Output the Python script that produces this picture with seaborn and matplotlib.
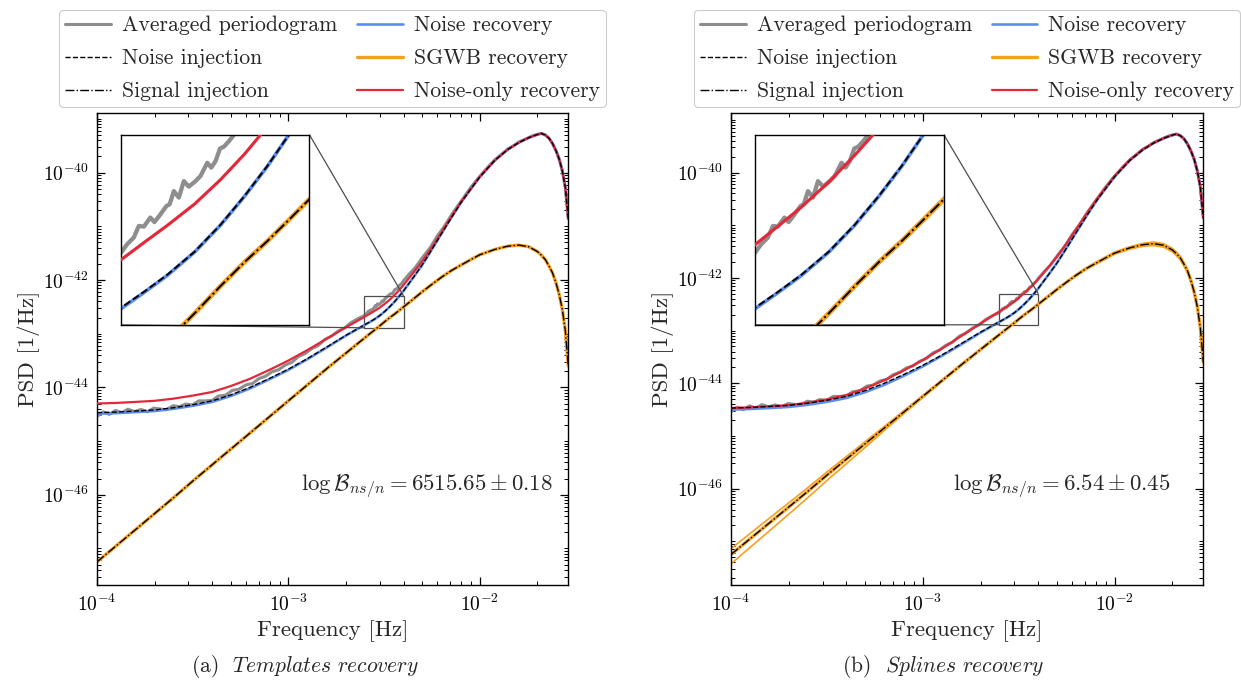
import numpy as np
import matplotlib
matplotlib.use("Agg")
import matplotlib.pyplot as plt
import seaborn as sns
from matplotlib.ticker import LogLocator, FixedLocator, FuncFormatter, NullLocator, NullFormatter
from mpl_toolkits.axes_grid1.inset_locator import mark_inset

# ---------------- data (log10 PSD values) ----------------
freq = [1.0e-4, 1.25e-4, 1.6e-4, 2.0e-4, 2.5e-4, 3.2e-4, 4.0e-4, 5.0e-4, 6.3e-4, 8.0e-4,
        1.0e-3, 1.25e-3, 1.6e-3, 2.0e-3, 2.5e-3, 2.65e-3, 2.8e-3, 3.0e-3, 3.2e-3, 3.4e-3,
        3.6e-3, 3.8e-3, 4.0e-3, 4.5e-3, 5.0e-3, 5.6e-3, 6.3e-3, 7.1e-3, 8.0e-3, 9.0e-3,
        1.0e-2, 1.2e-2, 1.4e-2, 1.6e-2, 1.8e-2, 2.0e-2, 2.1e-2, 2.2e-2, 2.3e-2, 2.4e-2,
        2.5e-2, 2.6e-2, 2.7e-2, 2.8e-2, 2.9e-2]

noise_injection = [-44.47, -44.46, -44.44, -44.42, -44.38, -44.32, -44.25, -44.14, -44.00, -43.83,
                   -43.66, -43.47, -43.24, -43.03, -42.835, -42.785, -42.735, -42.663, -42.580, -42.490,
                   -42.397, -42.300, -42.200, -41.95, -41.72, -41.44, -41.14, -40.84, -40.55, -40.30,
                   -40.08, -39.77, -39.57, -39.44, -39.35, -39.29, -39.27, -39.30, -39.36, -39.46,
                   -39.59, -39.75, -39.97, -40.28, -40.86]

signal_injection = [-47.25, -46.96, -46.64, -46.35, -46.06, -45.73, -45.44, -45.15, -44.85, -44.54,
                    -44.25, -43.96, -43.64, -43.36, -43.08, -43.007, -42.94, -42.854, -42.77, -42.695,
                    -42.63, -42.564, -42.50, -42.354, -42.22, -42.085, -41.95, -41.825, -41.72, -41.618,
                    -41.53, -41.43, -41.37, -41.35, -41.38, -41.47, -41.54, -41.62, -41.74, -41.87,
                    -42.05, -42.27, -42.55, -42.95, -43.60]

# (a) templates recovery
noise_rec_templates = [-44.49, -44.48, -44.46, -44.44, -44.40, -44.34, -44.27, -44.16, -44.02, -43.845,
                       -43.675, -43.48, -43.25, -43.035, -42.838, -42.787, -42.737, -42.664, -42.581, -42.491,
                       -42.398, -42.300, -42.200, -41.95, -41.72, -41.44, -41.14, -40.84, -40.55, -40.30,
                       -40.08, -39.77, -39.57, -39.44, -39.35, -39.29, -39.27, -39.30, -39.36, -39.46,
                       -39.59, -39.75, -39.97, -40.28, -40.86]
sgwb_rec_templates = [-47.25, -46.96, -46.64, -46.35, -46.06, -45.73, -45.44, -45.15, -44.85, -44.54,
                      -44.25, -43.96, -43.64, -43.36, -43.08, -43.007, -42.94, -42.854, -42.77, -42.695,
                      -42.63, -42.564, -42.50, -42.354, -42.22, -42.085, -41.95, -41.825, -41.72, -41.618,
                      -41.53, -41.43, -41.37, -41.35, -41.38, -41.47, -41.54, -41.62, -41.74, -41.87,
                      -42.05, -42.27, -42.55, -42.95, -43.60]
noise_only_templates = [-44.30, -44.29, -44.27, -44.25, -44.21, -44.15, -44.085, -43.975, -43.84, -43.67,
                        -43.50, -43.31, -43.085, -42.88, -42.686, -42.632, -42.582, -42.515, -42.440, -42.360,
                        -42.275, -42.185, -42.09, -41.86, -41.655, -41.40, -41.115, -40.825, -40.542, -40.297,
                        -40.08, -39.77, -39.57, -39.44, -39.35, -39.29, -39.27, -39.30, -39.36, -39.46,
                        -39.59, -39.75, -39.97, -40.28, -40.86]

# (b) splines recovery
noise_rec_splines = [-44.50, -44.49, -44.47, -44.45, -44.41, -44.35, -44.28, -44.17, -44.03, -43.855,
                     -43.68, -43.485, -43.255, -43.04, -42.838, -42.787, -42.737, -42.664, -42.581, -42.491,
                     -42.398, -42.300, -42.200, -41.95, -41.72, -41.44, -41.14, -40.84, -40.55, -40.30,
                     -40.08, -39.77, -39.57, -39.44, -39.35, -39.29, -39.27, -39.30, -39.36, -39.46,
                     -39.59, -39.75, -39.97, -40.28, -40.86]
sgwb_rec_splines = [-47.25, -46.96, -46.64, -46.35, -46.06, -45.73, -45.44, -45.15, -44.85, -44.54,
                    -44.25, -43.96, -43.64, -43.36, -43.08, -43.007, -42.94, -42.854, -42.77, -42.695,
                    -42.63, -42.564, -42.50, -42.354, -42.22, -42.085, -41.95, -41.825, -41.72, -41.618,
                    -41.53, -41.43, -41.37, -41.35, -41.38, -41.47, -41.54, -41.62, -41.74, -41.87,
                    -42.05, -42.27, -42.55, -42.95, -43.60]
sgwb_splines_upper = [-47.14, -46.86, -46.55, -46.27, -45.99, -45.67, -45.39, -45.11, -44.820, -44.52,
                      -44.235, -43.950, -43.633, -43.355, -43.076, -43.003, -42.936, -42.850, -42.766, -42.691,
                      -42.626, -42.559, -42.495, -42.348, -42.213, -42.076, -41.940, -41.813, -41.705, -41.600,
                      -41.512, -41.41, -41.345, -41.32, -41.35, -41.44, -41.51, -41.59, -41.71, -41.84,
                      -42.02, -42.24, -42.52, -42.92, -43.57]
sgwb_splines_lower = [-47.43, -47.125, -46.79, -46.485, -46.18, -45.83, -45.525, -45.22, -44.895, -44.570,
                      -44.270, -43.975, -43.650, -43.367, -43.084, -43.011, -42.944, -42.858, -42.774, -42.699,
                      -42.634, -42.569, -42.506, -42.362, -42.230, -42.096, -41.963, -41.839, -41.737, -41.638,
                      -41.550, -41.455, -41.400, -41.385, -41.415, -41.505, -41.575, -41.655, -41.775, -41.905,
                      -42.085, -42.305, -42.585, -42.985, -43.635]
noise_only_splines = [-44.469, -44.459, -44.437, -44.415, -44.371, -44.303, -44.223, -44.099, -43.942, -43.752,
                      -43.560, -43.348, -43.095, -42.864, -42.639, -42.581, -42.525, -42.447, -42.364, -42.280,
                      -42.197, -42.111, -42.024, -41.806, -41.601, -41.351, -41.078, -40.797, -40.522, -40.280,
                      -40.065, -39.761, -39.563, -39.435, -39.346, -39.287, -39.268, -39.298, -39.358, -39.458,
                      -39.588, -39.749, -39.969, -40.279, -40.859]

# averaged periodogram (same data in both panels)
periodogram_freq = [1.00e-4, 1.08e-4, 1.16e-4, 1.25e-4, 1.35e-4, 1.45e-4, 1.57e-4, 1.70e-4, 1.83e-4, 1.98e-4,
                    2.14e-4, 2.30e-4, 2.50e-4, 2.70e-4, 2.90e-4, 3.15e-4, 3.40e-4, 3.70e-4, 4.00e-4, 4.30e-4,
                    4.70e-4, 5.10e-4, 5.50e-4, 6.00e-4, 6.50e-4, 7.00e-4, 7.60e-4, 8.20e-4, 8.90e-4, 9.60e-4,
                    1.04e-3, 1.13e-3, 1.22e-3, 1.32e-3, 1.43e-3, 1.55e-3, 1.68e-3, 1.82e-3, 1.97e-3, 2.13e-3,
                    2.30e-3, 2.40e-3, 2.495e-3, 2.533e-3, 2.576e-3, 2.609e-3, 2.642e-3, 2.685e-3, 2.713e-3, 2.749e-3,
                    2.796e-3, 2.818e-3, 2.848e-3, 2.884e-3, 2.920e-3, 2.957e-3, 3.007e-3, 3.045e-3, 3.097e-3, 3.128e-3,
                    3.162e-3, 3.197e-3, 3.229e-3, 3.270e-3, 3.311e-3, 3.40e-3, 3.50e-3, 3.60e-3, 3.70e-3, 3.80e-3,
                    3.90e-3, 4.00e-3, 4.30e-3, 4.60e-3, 5.00e-3, 5.50e-3, 6.00e-3, 6.50e-3, 7.20e-3, 8.00e-3,
                    9.00e-3, 1.00e-2, 1.10e-2, 1.20e-2, 1.30e-2, 1.40e-2, 1.50e-2, 1.60e-2, 1.70e-2, 1.80e-2,
                    1.90e-2, 2.00e-2, 2.10e-2, 2.20e-2, 2.30e-2, 2.40e-2, 2.50e-2, 2.60e-2, 2.70e-2, 2.80e-2,
                    2.90e-2]
periodogram_psd = [-44.539, -44.456, -44.502, -44.429, -44.472, -44.406, -44.449, -44.411, -44.454, -44.386,
                   -44.402, -44.417, -44.341, -44.360, -44.310, -44.327, -44.252, -44.251, -44.243, -44.163,
                   -44.144, -44.055, -44.035, -43.955, -43.926, -43.838, -43.792, -43.710, -43.671, -43.586,
                   -43.533, -43.424, -43.372, -43.281, -43.221, -43.108, -43.045, -42.952, -42.891, -42.791,
                   -42.722, -42.690, -42.666, -42.640, -42.619, -42.583, -42.585, -42.557, -42.571, -42.550,
                   -42.521, -42.516, -42.475, -42.495, -42.444, -42.461, -42.444, -42.428, -42.387, -42.402,
                   -42.382, -42.343, -42.337, -42.320, -42.300, -42.260, -42.250, -42.180, -42.160, -42.100,
                   -42.070, -42.010, -41.880, -41.770, -41.590, -41.400, -41.180, -41.010, -40.760, -40.530,
                   -40.270, -40.070, -39.900, -39.760, -39.660, -39.560, -39.500, -39.430, -39.390, -39.350,
                   -39.310, -39.290, -39.270, -39.300, -39.360, -39.460, -39.590, -39.750, -39.970, -40.280,
                   -40.860]

x_major_ticks = [1e-4, 1e-3, 1e-2]
y_major_ticks = [1e-46, 1e-44, 1e-42, 1e-40]

bayes_labels = [r"$\log\mathcal{B}_{ns/n} = 6515.65 \pm 0.18$",
                r"$\log\mathcal{B}_{ns/n} = 6.54 \pm 0.45$"]
captions = [r"(a)  $\mathit{Templates\ recovery}$", r"(b)  $\mathit{Splines\ recovery}$"]
legend_labels = ["Averaged periodogram", "Noise injection", "Signal injection",
                 "Noise recovery", "SGWB recovery", "Noise-only recovery"]

# ---------------- style ----------------
sns.set_theme(style="ticks")
plt.rcParams["font.family"] = ["cmr10", "DejaVu Serif"]
plt.rcParams["mathtext.fontset"] = "cm"
plt.rcParams["axes.unicode_minus"] = False
plt.rcParams["axes.formatter.use_mathtext"] = True

C_GRAY = "#8e8e8e"
C_BLUE = "#5b8def"
C_ORANGE = "#f5a021"
C_RED = "#e3283a"

fig = plt.figure(figsize=(12.41, 6.81), dpi=100)
ax_l = fig.add_axes([97 / 1241, 96 / 681, 471 / 1241, 472 / 681])
ax_r = fig.add_axes([731 / 1241, 96 / 681, 472 / 1241, 472 / 681])

f = np.array(freq)
pf = np.array(periodogram_freq)
pp = 10 ** np.array(periodogram_psd)

panels = [
    dict(ax=ax_l, noise_rec=noise_rec_templates, sgwb=sgwb_rec_templates, upper=None, lower=None,
         noise_only=noise_only_templates, ylim=(10 ** -47.68, 10 ** -38.89)),
    dict(ax=ax_r, noise_rec=noise_rec_splines, sgwb=sgwb_rec_splines, upper=sgwb_splines_upper,
         lower=sgwb_splines_lower, noise_only=noise_only_splines, ylim=(10 ** -47.83, 10 ** -38.87)),
]


def draw(ax, p, scale):
    ax.set_xscale("log")
    ax.set_yscale("log")
    h = {}
    sns.lineplot(x=pf, y=pp, ax=ax, color=C_GRAY, lw=2.2 * scale, legend=False, estimator=None, zorder=1)
    h["gray"] = ax.lines[-1]
    sns.lineplot(x=f, y=10 ** np.array(p["noise_rec"]), ax=ax, color=C_BLUE, lw=1.9 * scale,
                 legend=False, estimator=None, zorder=2)
    h["blue"] = ax.lines[-1]
    if p["upper"] is not None:
        for arr in (p["upper"], p["lower"]):
            sns.lineplot(x=f, y=10 ** np.array(arr), ax=ax, color=C_ORANGE, lw=1.2 * scale,
                         legend=False, estimator=None, zorder=2)
    sns.lineplot(x=f, y=10 ** np.array(p["sgwb"]), ax=ax, color=C_ORANGE, lw=2.4 * scale,
                 legend=False, estimator=None, zorder=2)
    h["orange"] = ax.lines[-1]
    sns.lineplot(x=f, y=10 ** np.array(p["noise_only"]), ax=ax, color=C_RED, lw=1.6 * scale,
                 legend=False, estimator=None, zorder=3)
    h["red"] = ax.lines[-1]
    sns.lineplot(x=f, y=10 ** np.array(noise_injection), ax=ax, color="black", lw=1.0 * scale,
                 linestyle="--", legend=False, estimator=None, zorder=4)
    h["ninj"] = ax.lines[-1]
    sns.lineplot(x=f, y=10 ** np.array(signal_injection), ax=ax, color="black", lw=1.0 * scale,
                 linestyle="-.", legend=False, estimator=None, zorder=4)
    h["sinj"] = ax.lines[-1]
    return h


log_fmt = FuncFormatter(lambda v, pos: r"$10^{%d}$" % int(round(np.log10(v))))

for i, p in enumerate(panels):
    ax = p["ax"]
    h = draw(ax, p, 1.0)
    ax.set_xlim(1e-4, 0.0289)
    ax.set_ylim(*p["ylim"])
    ax.xaxis.set_major_locator(FixedLocator(x_major_ticks))
    ax.xaxis.set_minor_locator(LogLocator(base=10.0, subs=np.arange(2, 10) * 1.0, numticks=50))
    ax.yaxis.set_major_locator(FixedLocator(y_major_ticks))
    ax.yaxis.set_minor_locator(LogLocator(base=10.0, subs=np.arange(1, 10) * 1.0, numticks=100))
    ax.xaxis.set_major_formatter(log_fmt)
    ax.yaxis.set_major_formatter(log_fmt)
    ax.xaxis.set_minor_formatter(NullFormatter())
    ax.yaxis.set_minor_formatter(NullFormatter())
    ax.tick_params(which="both", direction="in", top=True, right=True, colors="black")
    ax.tick_params(which="major", length=6, width=0.9, labelsize=14, pad=6)
    ax.tick_params(which="minor", length=3, width=0.7, labelleft=False, labelbottom=False)
    for s in ax.spines.values():
        s.set_color("black")
        s.set_linewidth(1.0)
    ax.set_xlabel("Frequency [Hz]", fontsize=16.5, labelpad=4)
    ax.set_ylabel("PSD [1/Hz]", fontsize=16.5, labelpad=2)
    ax.text(0.70, 0.21, bayes_labels[i], transform=ax.transAxes, ha="center", va="center", fontsize=16.4)

    leg = ax.legend([h["gray"], h["ninj"], h["sinj"], h["blue"], h["orange"], h["red"]], legend_labels,
                    ncol=2, loc="lower center", bbox_to_anchor=(0.5, 1.012), borderaxespad=0,
                    fontsize=15.7, frameon=True, fancybox=True, edgecolor="0.8", framealpha=1,
                    columnspacing=0.9, labelspacing=0.62, handlelength=2.1, handletextpad=0.5,
                    borderpad=0.28)
    leg.get_frame().set_linewidth(0.8)

    # inset
    axins = ax.inset_axes([0.051, 0.551, 0.40, 0.403])
    axins.set_zorder(6)
    draw(axins, p, 1.4)
    axins.set_xlim(2.495e-3, 4.0e-3)
    axins.set_ylim(10 ** -42.89, 10 ** -42.30)
    axins.xaxis.set_major_locator(NullLocator())
    axins.xaxis.set_minor_locator(NullLocator())
    axins.yaxis.set_major_locator(NullLocator())
    axins.yaxis.set_minor_locator(NullLocator())
    axins.set_xlabel("")
    axins.set_ylabel("")
    for s in axins.spines.values():
        s.set_color("black")
        s.set_linewidth(1.0)
    mark_inset(ax, axins, loc1=1, loc2=3, fc="none", ec="0.3", lw=0.9)

fig.text(305 / 1241, 15 / 681, captions[0], ha="center", va="center", fontsize=15.5)
fig.text(943 / 1241, 15 / 681, captions[1], ha="center", va="center", fontsize=15.5)

fig.savefig("out.png", dpi=100)
